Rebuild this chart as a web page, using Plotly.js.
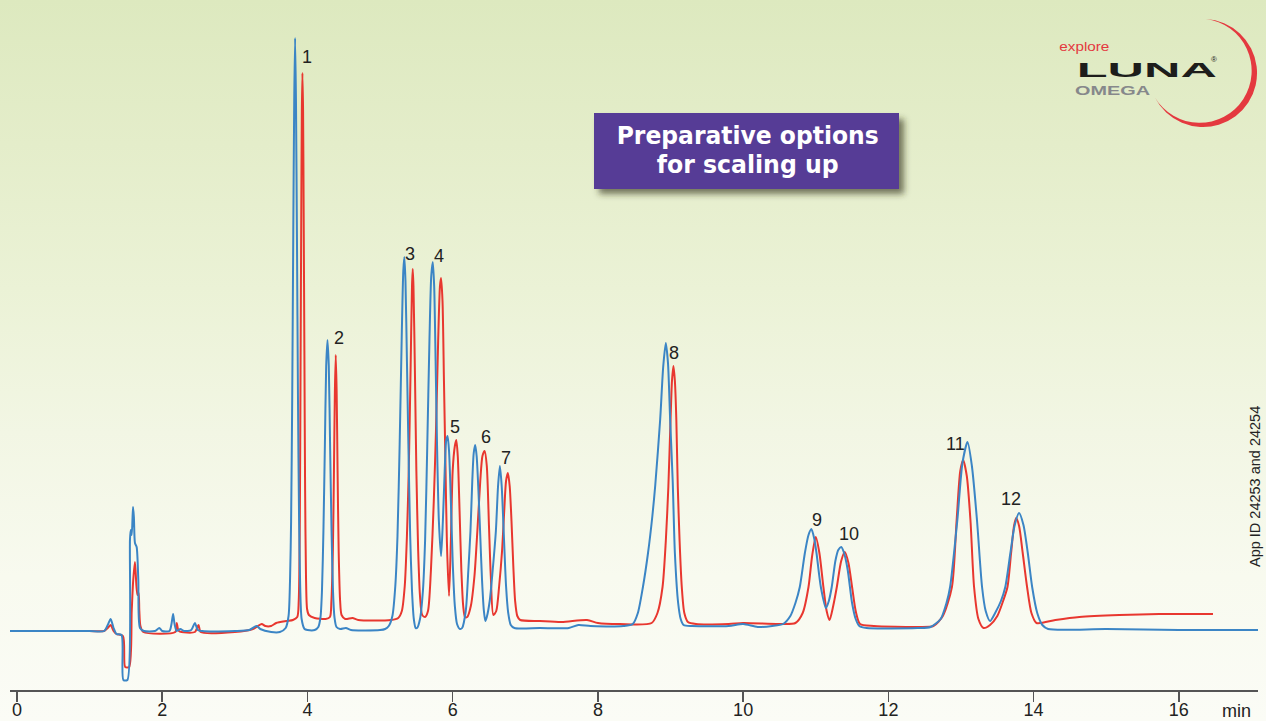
<!DOCTYPE html>
<html>
<head>
<meta charset="utf-8">
<script src="https://cdn.plot.ly/plotly-3.0.1.min.js"></script>
<style>
  html, body { margin: 0; padding: 0; }
  body { width: 1266px; height: 721px; overflow: hidden;
    background: linear-gradient(to bottom, #dde9bf 0%, #e4edca 20%, #ebf2d6 40%, #f2f6e4 60%, #f8faef 80%, #fbfcf6 100%); }
  #chart { width: 1266px; height: 721px; }
</style>
</head>
<body>
<div id="chart"></div>
<script>
// ---- data (time in min, signal in arbitrary units) ----
const blueTime = [-0.1,0.5,1.0,1.2,1.25,1.29,1.33,1.37,1.44,1.465,1.52,1.556,1.566,1.58,1.598,1.61,1.625,1.648,1.671,1.694,1.75,1.9,1.96,2.0,2.1,2.13,2.15,2.17,2.2,2.25,2.3,2.4,2.45,2.49,2.55,3.0,3.2,3.3,3.35,3.5,3.62,3.7,3.74,3.76,3.775,3.79,3.805,3.818,3.83,3.842,3.855,3.87,3.885,3.9,3.92,3.96,4.0,4.1,4.15,4.18,4.2,4.22,4.24,4.258,4.276,4.294,4.312,4.332,4.352,4.372,4.4,4.45,4.53,4.6,5.0,5.07,5.12,5.17,5.21,5.24,5.27,5.3,5.32,5.335,5.35,5.37,5.39,5.415,5.44,5.465,5.49,5.51,5.55,5.59,5.62,5.65,5.68,5.705,5.726,5.745,5.765,5.785,5.81,5.84,5.865,5.89,5.91,5.93,5.95,5.975,6.0,6.03,6.06,6.1,6.13,6.18,6.215,6.245,6.27,6.29,6.31,6.33,6.355,6.38,6.405,6.43,6.45,6.47,6.51,6.55,6.595,6.625,6.65,6.675,6.705,6.735,6.765,6.8,6.85,7.2,7.6,7.73,7.9,8.35,8.48,8.55,8.62,8.69,8.75,8.79,8.857,8.9,8.935,8.965,8.995,9.03,9.06,9.105,9.14,9.18,9.3,9.8,10.0,10.2,10.4,10.55,10.65,10.72,10.78,10.85,10.9,10.94,10.98,11.01,11.07,11.14,11.18,11.22,11.27,11.31,11.35,11.39,11.44,11.5,11.55,11.6,11.7,12.4,12.58,12.72,12.8,12.85,12.95,13.02,13.09,13.15,13.22,13.29,13.34,13.4,13.47,13.55,13.61,13.68,13.74,13.8,13.86,13.92,13.98,14.05,14.12,14.2,15.0,16.0,17.1];
const blueSignal = [0,0,0,0,6,12,3,-3,-4,-49,-49,91,101,96,124,114,88,84,51,3,0,0,3,0,0,8,17,7,0,2,0,1,8,1,0,0,1,5,2,-1,-1,3,15,50,110,230,400,530,593,530,400,230,110,45,12,2,1,1,4,14,40,100,185,265,291,265,185,100,40,14,4,2,3,1,1,2,5,15,45,95,187,300,360,374,350,270,187,95,40,12,3,3,12,40,90,185,290,355,369,345,270,185,110,75,110,160,190,195,180,130,70,25,7,2,3,20,60,100,150,178,186,175,140,95,50,20,10,14,30,60,100,145,165,145,95,45,18,6,3,3,3,6,5,5,7,18,44,78,115,146,211,265,288,268,211,150,78,28,12,6,5,5,7,4,5,7,15,28,44,78,96,102,92,78,44,23,30,44,70,81,84,78,61,28,12,5,3,3,4,12,28,44,111,168,189,165,111,44,20,10,18,30,44,78,106,118,106,78,44,18,6,2,2,1,1];

const redTime = [-0.1,0.5,1.0,1.2,1.25,1.29,1.33,1.37,1.46,1.49,1.545,1.58,1.6,1.625,1.645,1.66,1.675,1.685,1.7,1.74,2.18,2.2,2.23,2.45,2.5,2.53,3.0,3.25,3.37,3.42,3.5,3.57,3.71,3.8,3.86,3.88,3.895,3.905,3.915,3.923,3.931,3.94,3.948,3.958,3.968,3.98,3.995,4.02,4.1,4.25,4.31,4.33,4.35,4.365,4.378,4.39,4.402,4.415,4.43,4.45,4.47,4.52,4.62,4.7,5.15,5.25,5.3,5.34,5.37,5.395,5.42,5.44,5.45,5.46,5.48,5.5,5.525,5.55,5.58,5.62,5.66,5.7,5.74,5.77,5.8,5.825,5.84,5.86,5.88,5.9,5.92,5.95,5.975,6.0,6.03,6.05,6.07,6.095,6.12,6.145,6.17,6.2,6.25,6.3,6.34,6.38,6.41,6.44,6.47,6.5,6.525,6.56,6.6,6.64,6.68,6.71,6.735,6.76,6.785,6.81,6.835,6.86,6.89,6.93,7.2,7.5,7.85,8.0,8.3,8.74,8.82,8.89,8.935,8.97,9.0,9.02,9.04,9.06,9.08,9.1,9.125,9.155,9.19,9.24,9.35,9.8,10.0,10.5,10.72,10.82,10.9,10.95,11.0,11.05,11.105,11.15,11.19,11.24,11.29,11.35,11.4,11.45,11.5,11.55,11.61,11.8,12.4,12.62,12.75,12.875,12.94,12.99,13.03,13.08,13.13,13.18,13.24,13.31,13.4,13.5,13.58,13.64,13.69,13.73,13.76,13.8,13.85,13.91,13.97,14.04,14.3,14.63,15.18,15.73,16.47];
const redSignal = [0,0,0,0,3,6,0,-3,-5,-36,-36,20,50,69,45,36,38,20,5,-1,-1,8,0,-1,6,-1,-1,2,7,5,5,8,10,11,14,30,110,260,420,520,558,520,420,280,140,55,22,16,13,12,14,30,80,160,240,276,240,160,80,30,16,12,13,11,11,13,20,45,95,160,260,345,362,345,260,160,80,35,16,14,20,60,130,200,290,345,353,330,250,170,90,35,90,160,185,191,175,120,60,25,14,14,25,55,100,150,175,180,165,105,55,16,20,45,80,120,150,158,145,110,65,30,15,11,10,9,11,8,7,8,18,44,90,144,211,250,265,250,211,144,90,44,18,9,7,7,8,7,8,18,44,75,94,78,44,20,11,25,44,70,79,68,44,20,7,5,4,5,15,44,111,160,171,155,111,44,12,3,6,15,30,44,78,105,113,105,78,44,18,8,11,14,16,17,17];

const peakLabels = ['1','2','3','4','5','6','7','8','9','10','11','12'];
const peakLabelTime = [3.99,4.44,5.41,5.81,6.03,6.46,6.74,9.05,11.02,11.46,12.92,13.69];
const peakLabelSignal = [574,293,377,375,204,194,173,278,111,97,187,132];

const tickValues = [0,2,4,6,8,10,12,14,16];
const tickLabels = ['0','2','4','6','8','10','12','14','16'];

// ---- decoration (logo crescent + box shadow) as an SVG overlay image in page pixels ----
const svg = "<svg xmlns='http://www.w3.org/2000/svg' width='1266' height='721' viewBox='0 0 1266 721' preserveAspectRatio='none'>" +
  "<defs><filter id='b' x='-20%' y='-20%' width='140%' height='140%'><feGaussianBlur stdDeviation='3'/></filter></defs>" +
  "<rect x='599' y='119' width='305' height='75' fill='#34341f' fill-opacity='0.65' filter='url(#b)'/>" +
  "<path d='M1205.8 19.1 A54 54 0 1 1 1154.9 97.5 A52.06 52.06 0 1 0 1205.8 19.1 Z' fill='#e4393f'/>" +
  "</svg>";
const svgUri = 'data:image/svg+xml;charset=utf-8,' + encodeURIComponent(svg);

const W = 1266, H = 721, ML = 10, MR = 8, MT = 10, MB = 31;
const PW = W - ML - MR, PH = H - MT - MB;
const px = v => (v - ML) / PW;
const py = v => (H - MB - v) / PH;
const xRange = [-0.096, 17.09];

const font = 'Liberation Sans, Arial, Helvetica, sans-serif';
const boxFont = 'Liberation Sans Narrow, DejaVu Sans Condensed, Liberation Sans, Arial';

const traces = [
  { x: redTime, y: redSignal, type: 'scatter', mode: 'lines', xaxis: 'x', yaxis: 'y',
    line: { color: '#e8372f', width: 2, shape: 'spline', smoothing: 0.7 }, hoverinfo: 'skip', showlegend: false },
  { x: blueTime, y: blueSignal, type: 'scatter', mode: 'lines', xaxis: 'x2', yaxis: 'y',
    line: { color: '#3b85c5', width: 2, shape: 'spline', smoothing: 0.7 }, hoverinfo: 'skip', showlegend: false }
];

const annotations = peakLabels.map((t, i) => ({
  x: peakLabelTime[i], y: peakLabelSignal[i], xref: 'x', yref: 'y', text: t, showarrow: false,
  xanchor: 'center', yanchor: 'middle', font: { family: font, size: 18, color: '#222' }
}));

annotations.push(
  { x: px(1236), y: py(711), xref: 'paper', yref: 'paper', text: 'min', showarrow: false,
    xanchor: 'center', yanchor: 'middle', font: { family: font, size: 18, color: '#222' } },
  { x: px(1255), y: py(487), xref: 'paper', yref: 'paper', text: 'App ID 24253 and 24254', showarrow: false,
    textangle: -90, xanchor: 'center', yanchor: 'middle', font: { family: font, size: 14.5, color: '#222' } },
  { x: px(1084), y: py(46), xref: 'paper', yref: 'paper', text: 'explore', showarrow: false,
    xanchor: 'center', yanchor: 'middle', font: { family: font, size: 13, color: '#e4393f' } },
  { x: px(1147), y: py(70), xref: 'paper', yref: 'paper', text: '<b>LUNA</b>', showarrow: false,
    xanchor: 'center', yanchor: 'middle', font: { family: font, size: 20, color: '#1d1d1b' } },
  { x: px(1214), y: py(60), xref: 'paper', yref: 'paper', text: '®', showarrow: false,
    xanchor: 'center', yanchor: 'middle', font: { family: font, size: 8, color: '#1d1d1b' } },
  { x: px(1112.5), y: py(90), xref: 'paper', yref: 'paper', text: '<b>OMEGA</b>', showarrow: false,
    xanchor: 'center', yanchor: 'middle', font: { family: font, size: 13, color: '#86888b' } },
  { x: px(747), y: py(151), xref: 'paper', yref: 'paper', text: 'Preparative options<br>for scaling up', showarrow: false,
    xanchor: 'center', yanchor: 'middle', align: 'center',
    font: { family: boxFont, size: 24, weight: 'bold', color: '#ffffff' } }
);

const layout = {
  width: W, height: H,
  margin: { l: ML, r: MR, t: MT, b: MB, pad: 0 },
  paper_bgcolor: 'rgba(0,0,0,0)', plot_bgcolor: 'rgba(0,0,0,0)',
  showlegend: false,
  xaxis: {
    range: xRange, tickvals: tickValues, ticktext: tickLabels, showticklabels: false,
    ticks: 'outside', ticklen: 10, tickwidth: 1.5, tickcolor: '#555',
    showline: true, linecolor: '#555', linewidth: 1.5,
    showgrid: false, zeroline: false, fixedrange: true
  },
  xaxis2: {
    range: xRange, tickvals: tickValues, ticktext: tickLabels, overlaying: 'x', anchor: 'y', side: 'bottom',
    ticks: 'outside', ticklen: 3, tickcolor: 'rgba(0,0,0,0)',
    showline: false, showgrid: false, zeroline: false, fixedrange: true,
    tickfont: { family: font, size: 18, color: '#222' }
  },
  yaxis: { range: [-59, 621], visible: false, showgrid: false, zeroline: false, fixedrange: true },
  shapes: [
    { type: 'rect', xref: 'paper', yref: 'paper', x0: px(594), x1: px(899), y0: py(189), y1: py(113),
      fillcolor: '#563c96', line: { width: 0 }, layer: 'above' }
  ],
  images: [
    { source: svgUri, xref: 'paper', yref: 'paper', x: px(0), y: py(0), sizex: W / PW, sizey: H / PH,
      xanchor: 'left', yanchor: 'top', sizing: 'stretch', layer: 'below' }
  ],
  annotations: annotations
};

Plotly.newPlot('chart', traces, layout, { displayModeBar: false, staticPlot: true }).then(() => {
  const fit = { 'LUNA': 140, 'OMEGA': 75, 'explore': 50 };
  const lineFit = { 'Preparative options': 262, 'for scaling up': 182 };
  document.querySelectorAll('.annotation-text').forEach(el => {
    const t = el.textContent;
    if (fit[t]) {
      el.setAttribute('textLength', fit[t]);
      el.setAttribute('lengthAdjust', 'spacingAndGlyphs');
    }
    const lines = el.querySelectorAll('tspan.line');
    if (lines.length === 2 && lineFit[lines[0].textContent]) {
      lines.forEach(ln => {
        ln.setAttribute('textLength', lineFit[ln.textContent]);
        ln.setAttribute('lengthAdjust', 'spacingAndGlyphs');
      });
      lines[1].setAttribute('dy', '1.19em');
    }
  });
});
</script>
</body>
</html>
